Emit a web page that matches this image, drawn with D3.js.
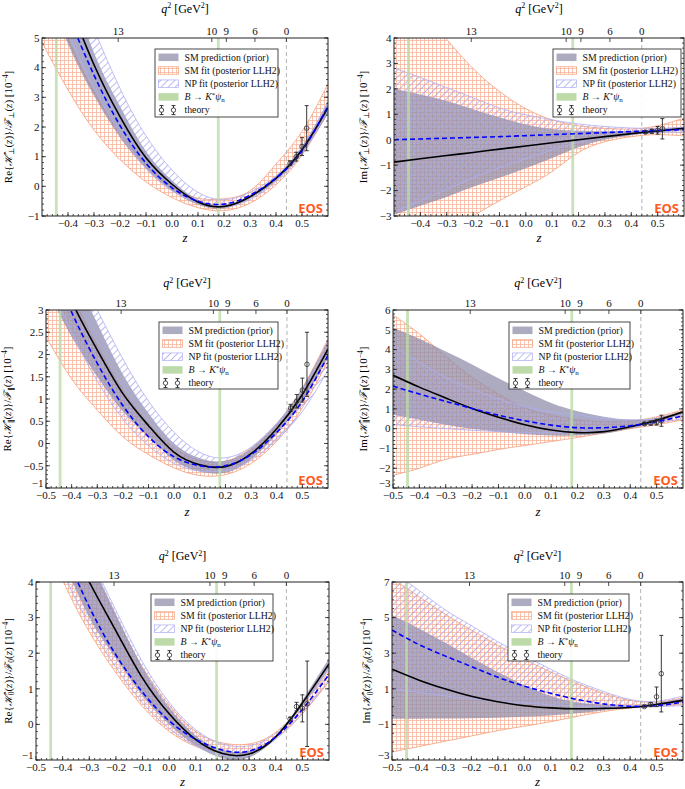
<!DOCTYPE html>
<html><head><meta charset="utf-8">
<script src="https://cdn.jsdelivr.net/npm/d3@7"></script>
<style>body{margin:0;background:#fff}svg{display:block}</style>
</head><body>
<svg id="c" width="685" height="789"></svg>
<script>
// ---------- data ----------
const Z = [-0.5,-0.4,-0.3,-0.2,-0.1,0,0.1,0.2,0.3,0.4,0.5,0.6];
const qTickLabels = ['13','10','9','6','0'];
const qTickZ = [-0.207,0.153,0.209,0.319,0.44];
const resonanceZ = [-0.445,0.178];
const q2zeroZ = 0.44;
const theoryZ = [0.454,0.478,0.5,0.518];

// Re H_perp
const p1Mean   = [8.7,6.3,4.1,2.35,0.96,0.07,-0.53,-0.68,-0.35,0.27,1.23,2.65];
const p1NpMean = [8.0,5.8,3.75,2.05,0.78,-0.05,-0.5,-0.6,-0.3,0.28,1.2,2.7];
const p1PriorHi= [9.6,7.0,4.5,2.7,1.18,0.2,-0.45,-0.62,-0.29,0.35,1.35,2.85];
const p1PriorLo= [7.0,4.8,3.05,1.65,0.6,-0.15,-0.62,-0.75,-0.42,0.18,1.1,2.45];
const p1SmHi   = [7.5,5.0,3.2,1.8,0.75,0.0,-0.4,-0.42,-0.15,0.75,1.85,3.45];
const p1SmLo   = [4.85,3.25,1.9,0.9,0.15,-0.38,-0.72,-0.82,-0.57,0.05,1.05,2.5];
const p1NpHi   = [10,7.5,5.3,3.3,1.7,0.55,-0.2,-0.45,-0.2,0.35,1.3,2.85];
const p1NpLo   = [7.5,5.2,3.3,1.8,0.6,-0.15,-0.55,-0.68,-0.45,0.15,1.1,2.55];
const p1ThY = [0.78,1.0,1.34,1.96];
const p1ThE = [0.08,0.15,0.3,0.76];

// Im H_perp
const p2Mean   = [-0.88,-0.75,-0.62,-0.5,-0.37,-0.25,-0.12,0.0,0.12,0.24,0.34,0.45];
const p2NpMean = [0.0,0.03,0.06,0.09,0.12,0.16,0.2,0.24,0.28,0.32,0.36,0.4];
const p2PriorHi= [2.0,1.78,1.52,1.2,0.88,0.6,0.42,0.35,0.33,0.35,0.42,0.52];
const p2PriorLo= [-2.95,-2.6,-2.25,-1.85,-1.5,-1.12,-0.72,-0.3,0.0,0.18,0.28,0.36];
const p2SmHi   = [6.5,5.2,3.95,2.8,1.9,1.22,0.78,0.55,0.45,0.42,0.55,0.85];
const p2SmLo   = [-5.2,-4.4,-3.65,-3.0,-2.4,-1.85,-1.25,-0.5,-0.08,0.12,0.2,0.15];
const p2NpHi   = [2.82,2.45,2.05,1.65,1.25,0.98,0.78,0.62,0.52,0.46,0.45,0.48];
const p2NpLo   = [-2.85,-2.4,-1.95,-1.5,-1.1,-0.75,-0.4,-0.1,0.1,0.22,0.28,0.3];
const p2ThY = [0.3,0.33,0.37,0.43];
const p2ThE = [0.05,0.08,0.15,0.4];

// Re H_par
const p3Mean   = [4.6,3.2,2.1,1.12,0.4,-0.2,-0.48,-0.52,-0.23,0.33,1.1,2.12];
const p3NpMean = [4.3,2.95,1.8,0.85,0.15,-0.3,-0.5,-0.5,-0.25,0.25,0.95,1.98];
const p3PriorHi= [5.7,4.0,2.7,1.55,0.68,0.0,-0.33,-0.39,-0.11,0.45,1.25,2.32];
const p3PriorLo= [3.5,2.4,1.5,0.72,0.15,-0.38,-0.63,-0.66,-0.36,0.21,0.95,1.92];
const p3SmHi   = [5.0,3.4,2.2,1.2,0.45,-0.1,-0.38,-0.4,-0.1,0.45,1.25,2.35];
const p3SmLo   = [2.4,1.45,0.75,0.15,-0.25,-0.55,-0.72,-0.7,-0.45,0.05,0.8,1.85];
const p3NpHi   = [5.6,4.2,3.0,1.9,0.95,0.25,-0.2,-0.32,-0.08,0.45,1.2,2.25];
const p3NpLo   = [3.8,2.5,1.4,0.55,-0.05,-0.45,-0.62,-0.6,-0.38,0.08,0.72,1.65];
const p3ThY = [0.8,0.95,1.2,1.78];
const p3ThE = [0.08,0.15,0.27,0.72];

// Im H_par
const p4Mean   = [2.7,2.1,1.55,1.02,0.58,0.2,-0.07,-0.2,-0.15,0.1,0.42,0.85];
const p4NpMean = [2.15,1.75,1.38,1.02,0.68,0.4,0.18,0.05,0.05,0.15,0.35,0.65];
const p4PriorHi= [5.1,4.55,3.9,3.25,2.55,1.9,1.3,0.88,0.6,0.45,0.55,0.9];
const p4PriorLo= [0.7,0.45,0.2,0.0,-0.15,-0.28,-0.35,-0.35,-0.25,0.0,0.3,0.75];
const p4SmHi   = [5.75,4.8,3.65,2.6,1.75,1.05,0.68,0.45,0.35,0.38,0.6,0.95];
const p4SmLo   = [-2.35,-2.0,-1.55,-1.3,-1.05,-0.85,-0.65,-0.45,-0.22,0.0,0.2,0.45];
const p4NpHi   = [4.2,3.35,2.6,2.0,1.5,1.12,0.85,0.7,0.52,0.45,0.5,0.7];
const p4NpLo   = [0.2,0.1,0.0,-0.08,-0.15,-0.2,-0.2,-0.18,-0.1,0.08,0.28,0.5];
const p4ThY = [0.25,0.28,0.33,0.4];
const p4ThE = [0.06,0.1,0.15,0.28];

// Re H_0
const p5Mean   = [7.5,5.6,4.0,2.63,1.3,0.3,-0.43,-0.82,-0.83,-0.35,0.6,1.7];
const p5NpMean = [6.9,5.0,3.3,1.95,0.9,0.1,-0.42,-0.72,-0.75,-0.35,0.42,1.4];
const p5PriorHi= [8.8,6.5,4.7,3.1,1.6,0.48,-0.32,-0.72,-0.75,-0.32,0.68,1.85];
const p5PriorLo= [6.0,4.6,3.0,1.85,0.8,0.0,-0.6,-0.95,-0.93,-0.38,0.52,1.55];
const p5SmHi   = [8.4,6.2,4.55,3.0,1.6,0.55,-0.2,-0.52,-0.55,-0.22,0.55,1.5];
const p5SmLo   = [5.8,4.05,2.6,1.45,0.5,-0.2,-0.62,-0.82,-0.78,-0.38,0.3,1.2];
const p5NpHi   = [8.9,6.7,4.8,3.2,1.75,0.62,-0.15,-0.55,-0.6,-0.25,0.55,1.6];
const p5NpLo   = [6.2,4.3,2.8,1.6,0.6,-0.12,-0.6,-0.85,-0.85,-0.42,0.3,1.25];
const p5ThY = [0.15,0.5,0.45,0.58];
const p5ThE = [0.05,0.12,0.38,1.2];

// Im H_0
const p6Mean   = [2.1,1.5,1.0,0.58,0.27,0.05,-0.07,-0.12,-0.1,-0.05,0.12,0.35];
const p6NpMean = [4.3,3.5,2.85,2.25,1.65,1.15,0.75,0.4,0.15,0.02,0.05,0.25];
const p6PriorHi= [5.15,4.4,3.6,2.75,1.95,1.2,0.6,0.25,0.1,0.05,0.2,0.45];
const p6PriorLo= [-0.68,-0.68,-0.67,-0.65,-0.62,-0.57,-0.5,-0.38,-0.22,-0.06,0.05,0.25];
const p6SmHi   = [7.2,6.2,5.2,4.3,3.45,2.65,1.95,1.3,0.75,0.35,0.25,0.5];
const p6SmLo   = [-2.55,-2.25,-1.95,-1.65,-1.35,-1.1,-0.85,-0.55,-0.28,-0.08,0.0,0.15];
const p6NpHi   = [7.6,6.55,5.45,4.55,3.65,2.85,2.1,1.4,0.85,0.4,0.3,0.6];
const p6NpLo   = [1.0,0.8,0.6,0.45,0.3,0.2,0.1,0.03,-0.02,-0.02,0.0,0.05];
const p6ThY = [0.0,0.12,0.55,1.85];
const p6ThE = [0.03,0.1,0.55,2.15];

const legendLabels = ['SM prediction (prior)','SM fit (posterior LLH2)','NP fit (posterior LLH2)','B→K*ψn','theory'];

// ---------- layout / style ----------
const SERIF = "'Liberation Serif','DejaVu Serif',serif";
const xTicksA = [-0.4,-0.3,-0.2,-0.1,0,0.1,0.2,0.3,0.4,0.5];
const xTicksB = [-0.5,-0.4,-0.3,-0.2,-0.1,0,0.1,0.2,0.3,0.4,0.5];

const panels = [
 {x0:42,x1:328,y0:38,y1:216,yDom:[-1,5],yStep:1,yMinor:0.2,xt:xTicksA,row:0,re:'Re',sub:'⊥',ylx:8,leg:[155,49,123,68],
  d:[p1Mean,p1NpMean,p1PriorHi,p1PriorLo,p1SmHi,p1SmLo,p1NpHi,p1NpLo,p1ThY,p1ThE]},
 {x0:394,x1:684,y0:38,y1:216,yDom:[-3,4],yStep:1,yMinor:0.2,xt:xTicksA,row:0,re:'Im',sub:'⊥',ylx:363,leg:[553,49,128,68],
  d:[p2Mean,p2NpMean,p2PriorHi,p2PriorLo,p2SmHi,p2SmLo,p2NpHi,p2NpLo,p2ThY,p2ThE]},
 {x0:46,x1:328,y0:310,y1:488,yDom:[-1,3],yStep:0.5,yMinor:0.1,xt:xTicksB,row:1,re:'Re',sub:'∥',ylx:7.5,leg:[159,322,119,67],
  d:[p3Mean,p3NpMean,p3PriorHi,p3PriorLo,p3SmHi,p3SmLo,p3NpHi,p3NpLo,p3ThY,p3ThE]},
 {x0:393,x1:683,y0:310,y1:488,yDom:[-3,6],yStep:1,yMinor:0.2,xt:xTicksB,row:1,re:'Im',sub:'∥',ylx:363,leg:[509,322,121,67],
  d:[p4Mean,p4NpMean,p4PriorHi,p4PriorLo,p4SmHi,p4SmLo,p4NpHi,p4NpLo,p4ThY,p4ThE]},
 {x0:36,x1:329,y0:582,y1:760,yDom:[-1,4],yStep:1,yMinor:0.2,xt:xTicksB,row:2,re:'Re',sub:'0',ylx:8,leg:[151,594,122,67],
  d:[p5Mean,p5NpMean,p5PriorHi,p5PriorLo,p5SmHi,p5SmLo,p5NpHi,p5NpLo,p5ThY,p5ThE]},
 {x0:392,x1:683,y0:582,y1:760,yDom:[-3,7],yStep:2,yMinor:0.5,xt:xTicksB,row:2,re:'Im',sub:'0',ylx:366.5,leg:[508,594,121,67],
  d:[p6Mean,p6NpMean,p6PriorHi,p6PriorLo,p6SmHi,p6SmLo,p6NpHi,p6NpLo,p6ThY,p6ThE]}
];
const titleOff = [25.5,23,22];
const zLabOff = [26,28,26];

const C = {
  prior:'#8e8ba8', priorOp:0.72,
  orangeHatch:'#f8b196', orangeEdge:'#f4a07e',
  blueHatch:'#a4a4ee', blueEdge:'#aeaef2',
  green:'#bcdba8', eos:'#ff5a1f'
};

const svg = d3.select('#c');
const defs = svg.append('defs');
const po = defs.append('pattern').attr('id','hOr').attr('patternUnits','userSpaceOnUse').attr('width',4).attr('height',4);
po.append('path').attr('d','M0,0.5H4M0.5,0V4').attr('stroke',C.orangeHatch).attr('stroke-width',0.75).attr('fill','none');
const pb = defs.append('pattern').attr('id','hBl').attr('patternUnits','userSpaceOnUse').attr('width',5).attr('height',5).attr('patternTransform','rotate(45)');
pb.append('line').attr('x1',0.5).attr('y1',0).attr('x2',0.5).attr('y2',5).attr('stroke',C.blueHatch).attr('stroke-width',0.75);

const fmtTick = d => d3.format(Number.isInteger(+d.toFixed(6)) ? 'd' : '.1f')(d);

panels.forEach((p,pi) => {
  const [mean,npMean,prHi,prLo,smHi,smLo,npHi,npLo,thY,thE] = p.d;
  const x = d3.scaleLinear().domain([-0.5,0.6]).range([p.x0,p.x1]);
  const y = d3.scaleLinear().domain(p.yDom).range([p.y1,p.y0]);
  const g = svg.append('g');
  defs.append('clipPath').attr('id','clip'+pi).append('rect')
    .attr('x',p.x0).attr('y',p.y0).attr('width',p.x1-p.x0).attr('height',p.y1-p.y0);
  const inner = g.append('g').attr('clip-path',`url(#clip${pi})`);
  const idx = d3.range(Z.length);
  const area = (hi,lo) => d3.area().x(i=>x(Z[i])).y0(i=>y(lo[i])).y1(i=>y(hi[i])).curve(d3.curveNatural)(idx);
  const line = arr => d3.line().x(i=>x(Z[i])).y(i=>y(arr[i])).curve(d3.curveNatural)(idx);

  inner.append('path').attr('d',area(smHi,smLo)).attr('fill','url(#hOr)');
  inner.append('path').attr('d',line(smHi)).attr('fill','none').attr('stroke',C.orangeEdge).attr('stroke-width',0.8);
  inner.append('path').attr('d',line(smLo)).attr('fill','none').attr('stroke',C.orangeEdge).attr('stroke-width',0.8);
  inner.append('path').attr('d',area(prHi,prLo)).attr('fill',C.prior).attr('opacity',C.priorOp);
  inner.append('path').attr('d',area(npHi,npLo)).attr('fill','url(#hBl)');
  inner.append('path').attr('d',line(npHi)).attr('fill','none').attr('stroke',C.blueEdge).attr('stroke-width',0.8);
  inner.append('path').attr('d',line(npLo)).attr('fill','none').attr('stroke',C.blueEdge).attr('stroke-width',0.8);
  resonanceZ.forEach(z => inner.append('rect').attr('x',x(z)-1.4).attr('width',2.8)
    .attr('y',p.y0).attr('height',p.y1-p.y0).attr('fill',C.green).attr('opacity',0.8));
  inner.append('line').attr('x1',x(q2zeroZ)).attr('x2',x(q2zeroZ)).attr('y1',p.y0).attr('y2',p.y1)
    .attr('stroke','#aaa').attr('stroke-width',0.9).attr('stroke-dasharray','4,3');
  inner.append('path').attr('d',line(mean)).attr('fill','none').attr('stroke','#000').attr('stroke-width',1.6);
  inner.append('path').attr('d',line(npMean)).attr('fill','none').attr('stroke','#0000ff').attr('stroke-width',1.6).attr('stroke-dasharray','5,3');
  theoryZ.forEach((z,i) => {
    const cx = x(z), yt = y(thY[i]+thE[i]), yb = y(thY[i]-thE[i]);
    inner.append('line').attr('x1',cx).attr('x2',cx).attr('y1',yt).attr('y2',yb).attr('stroke','#222').attr('stroke-width',0.9);
    [yt,yb].forEach(yy => inner.append('line').attr('x1',cx-2).attr('x2',cx+2).attr('y1',yy).attr('y2',yy).attr('stroke','#222').attr('stroke-width',0.9));
    inner.append('circle').attr('cx',cx).attr('cy',y(thY[i])).attr('r',2.3).attr('fill','none').attr('stroke','#333').attr('stroke-width',0.8);
  });
  g.append('text').attr('x',p.x1-5).attr('y',p.y1-3).attr('text-anchor','end')
    .style('font-family',"'Open Sans','DejaVu Sans',sans-serif").style('font-weight','bold').style('font-size','13px')
    .attr('fill',C.eos).text('EOS');

  g.append('rect').attr('x',p.x0).attr('y',p.y0).attr('width',p.x1-p.x0).attr('height',p.y1-p.y0)
    .attr('fill','none').attr('stroke','#222').attr('stroke-width',1);
  const tk = g.append('g').attr('stroke','#222').attr('stroke-width',0.8);
  const xMinor = d3.range(-0.5,0.6001,0.02);
  xMinor.forEach(v => { const xx=x(v); if(xx>p.x0+0.5&&xx<p.x1-0.5) tk.append('line').attr('x1',xx).attr('x2',xx).attr('y1',p.y1).attr('y2',p.y1-2); });
  p.xt.forEach(v => tk.append('line').attr('x1',x(v)).attr('x2',x(v)).attr('y1',p.y1).attr('y2',p.y1-4));
  qTickZ.forEach(v => tk.append('line').attr('x1',x(v)).attr('x2',x(v)).attr('y1',p.y0).attr('y2',p.y0+4));
  const yMaj = d3.range(p.yDom[0],p.yDom[1]+1e-6,p.yStep);
  const yMin = d3.range(p.yDom[0],p.yDom[1]+1e-6,p.yMinor);
  yMin.forEach(v => { const yy=y(v); tk.append('line').attr('x1',p.x0).attr('x2',p.x0+2).attr('y1',yy).attr('y2',yy);
                                      tk.append('line').attr('x1',p.x1).attr('x2',p.x1-2).attr('y1',yy).attr('y2',yy); });
  yMaj.forEach(v => { const yy=y(v); tk.append('line').attr('x1',p.x0).attr('x2',p.x0+4).attr('y1',yy).attr('y2',yy);
                                      tk.append('line').attr('x1',p.x1).attr('x2',p.x1-4).attr('y1',yy).attr('y2',yy); });
  const lab = g.append('g').style('font-family',SERIF).style('font-size','11px').attr('fill','#111');
  p.xt.forEach(v => lab.append('text').attr('x',x(v)).attr('y',p.y1+11).attr('text-anchor','middle').text(d3.format('.1f')(v)));
  yMaj.forEach(v => {
    const bottom = Math.abs(v-p.yDom[0])<1e-9 && p.xt[0] < -0.45;
    lab.append('text').attr('x',p.x0-2.5).attr('y',y(v)+(bottom?-1.5:3.8)).attr('text-anchor','end').text(fmtTick(v));
  });
  qTickZ.forEach((v,i) => lab.append('text').attr('x',x(v)).attr('y',p.y0-3).attr('text-anchor','middle').text(qTickLabels[i]));
  const cxm = (p.x0+p.x1)/2;
  const tt = g.append('text').attr('x',cxm).attr('y',p.y0-titleOff[p.row]).attr('text-anchor','middle')
    .style('font-family',SERIF).style('font-size','12px');
  tt.append('tspan').style('font-style','italic').text('q');
  tt.append('tspan').attr('dy',-4.5).style('font-size','8px').text('2');
  tt.append('tspan').attr('dy',4.5).text(' [GeV');
  tt.append('tspan').attr('dy',-4.5).style('font-size','8px').text('2');
  tt.append('tspan').attr('dy',4.5).text(']');
  g.append('text').attr('x',cxm).attr('y',p.y1+zLabOff[p.row]).attr('text-anchor','middle')
    .style('font-family',SERIF).style('font-size','13px').style('font-style','italic').text('z');
  const yl = g.append('text').attr('transform',`translate(${p.ylx},${(p.y0+p.y1)/2}) rotate(-90)`)
    .attr('text-anchor','middle').attr('dy','0.35em').style('font-family',SERIF).style('font-size','11px');
  yl.append('tspan').text(p.re+'{');
  yl.append('tspan').style('font-style','italic').style('font-family',"'DejaVu Serif',serif").style('font-size','10.5px').text('\u210B\u0302');
  yl.append('tspan').attr('dy',2.5).style('font-size','7.5px').text(p.sub);
  yl.append('tspan').attr('dy',-2.5).text('(');
  yl.append('tspan').style('font-style','italic').text('z');
  yl.append('tspan').text(')}/');
  yl.append('tspan').style('font-style','italic').style('font-family',"'DejaVu Serif',serif").style('font-size','10.5px').text('\u2131');
  yl.append('tspan').attr('dy',2.5).style('font-size','7.5px').text(p.sub);
  yl.append('tspan').attr('dy',-2.5).text('(');
  yl.append('tspan').style('font-style','italic').text('z');
  yl.append('tspan').text(') [10');
  yl.append('tspan').attr('dy',-4).style('font-size','7.5px').text('−4');
  yl.append('tspan').attr('dy',4).text(']');

  const [lx,ly,lw,lh] = p.leg;
  const L = g.append('g');
  L.append('rect').attr('x',lx).attr('y',ly).attr('width',lw).attr('height',lh)
    .attr('fill','#fff').attr('fill-opacity',0.9).attr('stroke','#333').attr('stroke-width',0.9);
  const rowY = k => ly + 8.3 + k*13.2;
  const px0 = lx+3.5, pw = 20, ph = 7.5;
  L.append('rect').attr('x',px0).attr('y',rowY(0)-ph/2).attr('width',pw).attr('height',ph).attr('fill',C.prior).attr('opacity',C.priorOp);
  L.append('rect').attr('x',px0).attr('y',rowY(1)-ph/2).attr('width',pw).attr('height',ph).attr('fill','url(#hOr)').attr('stroke',C.orangeEdge).attr('stroke-width',0.7);
  L.append('rect').attr('x',px0).attr('y',rowY(2)-ph/2).attr('width',pw).attr('height',ph).attr('fill','url(#hBl)').attr('stroke',C.blueEdge).attr('stroke-width',0.7);
  L.append('rect').attr('x',px0).attr('y',rowY(3)-ph/2).attr('width',pw).attr('height',ph).attr('fill',C.green);
  [px0+3,px0+15].forEach(cx => {
    const cy = rowY(4);
    L.append('line').attr('x1',cx).attr('x2',cx).attr('y1',cy-4.5).attr('y2',cy+4.5).attr('stroke','#222').attr('stroke-width',0.9);
    L.append('line').attr('x1',cx-2).attr('x2',cx+2).attr('y1',cy-4.5).attr('y2',cy-4.5).attr('stroke','#222').attr('stroke-width',0.9);
    L.append('line').attr('x1',cx-2).attr('x2',cx+2).attr('y1',cy+4.5).attr('y2',cy+4.5).attr('stroke','#222').attr('stroke-width',0.9);
    L.append('circle').attr('cx',cx).attr('cy',cy).attr('r',2.2).attr('fill','#fff').attr('stroke','#222').attr('stroke-width',0.8);
  });
  const tx = lx+29.5;
  const lt = (k) => L.append('text').attr('x',tx).attr('y',rowY(k)+3.2).style('font-family',SERIF).style('font-size','9.8px').attr('fill','#111');
  lt(0).text(legendLabels[0]);
  lt(1).text(legendLabels[1]);
  lt(2).text(legendLabels[2]);
  const t3 = lt(3);
  t3.append('tspan').style('font-style','italic').text('B');
  t3.append('tspan').text(' → ');
  t3.append('tspan').style('font-style','italic').text('K');
  t3.append('tspan').attr('dy',-3).style('font-size','7px').text('*');
  t3.append('tspan').attr('dy',3).style('font-style','italic').text('ψ');
  t3.append('tspan').attr('dy',2).style('font-size','7px').text('n');
  lt(4).text(legendLabels[4]);
});
</script>
</body></html>
